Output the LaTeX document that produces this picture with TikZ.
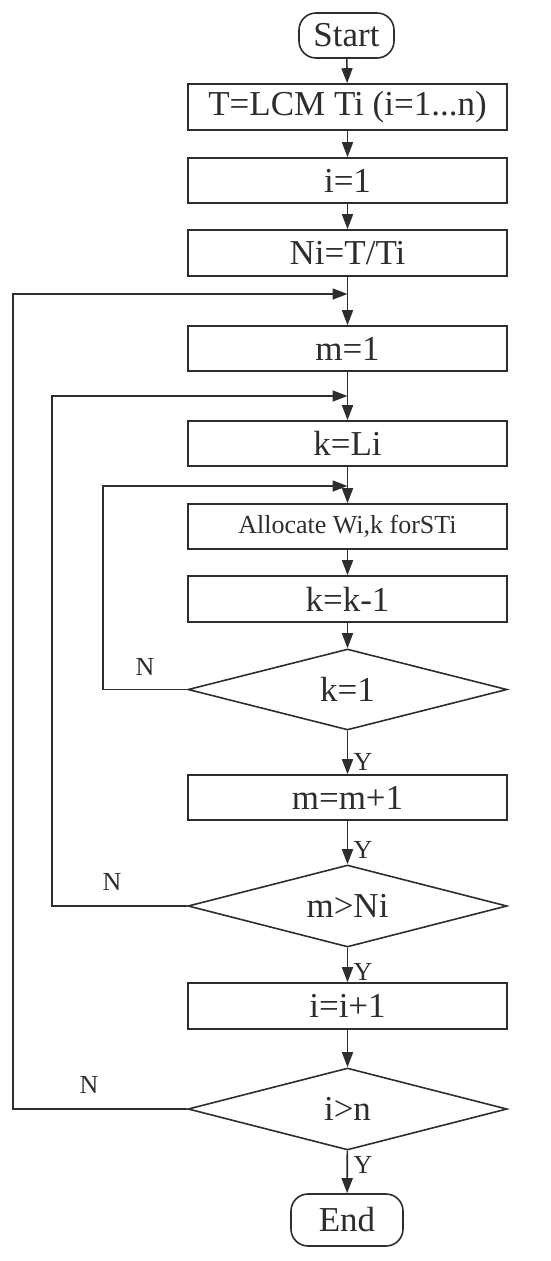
\documentclass[tikz,border=0pt]{standalone}
\usepackage{fontspec}
\setmainfont{Liberation Serif}
\usetikzlibrary{shapes.geometric,arrows.meta}
\definecolor{ink}{RGB}{45,45,45}
\begin{document}
\begin{tikzpicture}[x=1pt,y=-1pt,
  line width=1.6pt,
  every node/.style={text=ink},
  box/.style={draw=ink, line width=1.6pt, rectangle, minimum width=319pt, inner sep=0pt, font=\fontsize{35}{40}\selectfont},
  term/.style={draw=ink, line width=1.6pt, rectangle, rounded corners=17pt, inner sep=0pt, font=\fontsize{35}{40}\selectfont},
  decision/.style={draw=ink, line width=1.6pt, diamond, aspect=3.9, minimum width=319pt, inner sep=0pt, font=\fontsize{35}{40}\selectfont},
  lbl/.style={font=\fontsize{26}{30}\selectfont, inner sep=0pt},
  arr/.style={draw=ink, line width=1.6pt, -{Triangle[length=15pt,width=11pt]}},
  ln/.style={draw=ink, line width=1.6pt}]
\useasboundingbox (0,0) rectangle (550,1261);
\node[term, minimum width=95pt, minimum height=45pt] (start) at (346.5,35.5) {Start};
\node[box, minimum height=46pt] (t) at (347.5,107) {T=LCM Ti (i=1...n)};
\node[box, minimum height=45pt] (i1) at (347.5,180.5) {i=1};
\node[box, minimum height=46pt] (ni) at (347.5,253) {Ni=T/Ti};
\node[box, minimum height=45pt] (m1) at (347.5,348.5) {m=1};
\node[box, minimum height=45pt] (kl) at (347.5,443.5) {k=Li};
\node[box, minimum height=45pt, font=\fontsize{26}{30}\selectfont] (al) at (347.5,526.5) {Allocate Wi,k forSTi};
\node[box, minimum height=46pt] (km) at (347.5,599) {k=k-1};
\node[decision, minimum height=81pt] (d1) at (347.5,689.5) {k=1};
\node[box, minimum height=45pt] (mp) at (347.5,797.5) {m=m+1};
\node[decision, minimum height=82pt] (d2) at (347.5,906) {m>Ni};
\node[box, minimum height=46pt] (ip) at (347.5,1006) {i=i+1};
\node[decision, minimum height=82pt] (d3) at (347.5,1109) {i>n};
\node[term, minimum width=112pt, minimum height=52pt] (end) at (347,1220) {End};

\coordinate (c1) at (347.5,294);
\coordinate (c2) at (347.5,396);
\coordinate (c3) at (347.5,486);
\coordinate (l1) at (13,294);
\coordinate (l2) at (52,396);
\coordinate (l3) at (103,486);

\draw[arr] (start) -- (t);
\draw[arr] (t) -- (i1);
\draw[arr] (i1) -- (ni);
\draw[arr] (ni) -- (m1);
\draw[arr] (m1) -- (kl);
\draw[arr] (kl) -- (al);
\draw[arr] (al) -- (km);
\draw[arr] (km) -- (d1);
\draw[arr] (d1) -- (mp);
\draw[arr] (mp) -- (d2);
\draw[arr] (d2) -- (ip);
\draw[arr] (ip) -- (d3);
\draw[arr] (d3) -- (end);

\draw[arr] (d1.west) -| (l3) -- (c3);
\draw[arr] (d2.west) -| (l2) -- (c2);
\draw[arr] (d3.west) -| (l1) -- (c1);

\node[lbl] (n1) at (145,667) {N};
\node[lbl] (n2) at (112,882) {N};
\node[lbl] (n3) at (89,1085) {N};
\node[lbl] (y1) at (363,762) {Y};
\node[lbl] (y2) at (363,850) {Y};
\node[lbl] (y3) at (363,972) {Y};
\node[lbl] (y4) at (363,1165) {Y};
\end{tikzpicture}
\end{document}
